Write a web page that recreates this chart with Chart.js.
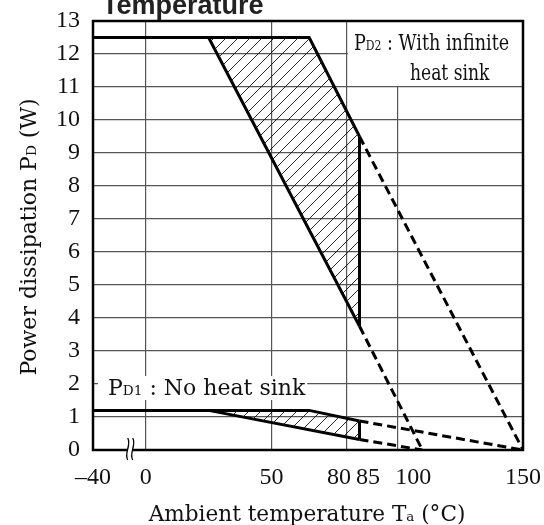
<!DOCTYPE html>
<html>
<head>
<meta charset="utf-8">
<script src="https://cdn.jsdelivr.net/npm/chart.js@4"></script>
<style>
  html, body { margin: 0; padding: 0; background: #fff; }
  canvas { display: block; }
</style>
</head>
<body>
<canvas id="chart" width="544" height="525"></canvas>
<script>
// derating curves: ambient temperature (°C) -> power dissipation (W)
const pd2OuterT = [-40, 65, 85, 150];
const pd2OuterP = [12.5, 12.5, 9.5, 0];
const pd2InnerT = [-40, 25, 85, 110];
const pd2InnerP = [12.5, 12.5, 3.75, 0];
const pd1OuterT = [-40, 65, 85, 150];
const pd1OuterP = [1.2, 1.2, 0.88, 0];
const pd1InnerT = [-40, 25, 85, 110];
const pd1InnerP = [1.2, 1.2, 0.32, 0];

const xTickLabels = [-40, 0, 50, 80, 85, 100, 150];
const xGridLines = [0, 50, 80, 100];
const yMax = 13;
const ratedTemp = 85; // curves are solid up to here, dashed after

// the -40..0 part of the axis is squeezed (axis break)
const BREAK_SCALE = 0.524;
const ax = t => (t < 0 ? t * BREAK_SCALE : t);

const SERIF = '"DejaVu Serif", serif';
const TICK_FONT = '"Liberation Serif", "Times New Roman", serif';

const pts = (T, P) => T.map((t, i) => ({ x: ax(t), y: P[i] }));
const upTo = (T, P) => pts(T, P).filter(p => p.x <= ratedTemp);
const at = (T, P, t) => P[T.indexOf(t)];

function hatchPattern(ctx) {
  const s = 12;
  const c = document.createElement("canvas");
  c.width = s;
  c.height = s;
  const g = c.getContext("2d");
  g.strokeStyle = "#111";
  g.lineWidth = 0.9;
  g.beginPath();
  g.moveTo(0, s); g.lineTo(s, 0);
  g.moveTo(-2, 2); g.lineTo(2, -2);
  g.moveTo(s - 2, s + 2); g.lineTo(s + 2, s - 2);
  g.stroke();
  return ctx.createPattern(c, "repeat");
}

function curve(T, P) {
  return {
    data: pts(T, P),
    borderColor: "#000",
    borderWidth: 3,
    fill: false,
    segment: {
      borderDash: c => (c.p0.parsed.x >= ratedTemp ? [9, 5] : undefined),
    },
  };
}

// draws text made of [string, sizeFactor] parts on one baseline, returns width
function richText(ctx, parts, x, y, size, draw = true, sx = 1) {
  let w = 0;
  ctx.save();
  ctx.translate(x, y);
  ctx.scale(sx, 1);
  for (const [txt, k] of parts) {
    ctx.font = `${size * k}px ${SERIF}`;
    if (draw) ctx.fillText(txt, w, 0);
    w += ctx.measureText(txt).width;
  }
  ctx.restore();
  return w * sx;
}

const decor = {
  id: "decor",
  afterDraw(chart) {
    const { ctx, chartArea: a, scales } = chart;
    const px = t => scales.x.getPixelForValue(ax(t));
    const py = p => scales.y.getPixelForValue(p);
    ctx.save();
    ctx.textBaseline = "alphabetic";

    // panel behind PD2 label
    ctx.fillStyle = "#fff";
    ctx.fillRect(px(80) + 1, a.top, a.right - px(80) - 1, py(11) - a.top - 1);

    // PD1 label with white backing
    const pd1Parts = [["P", 1], ["D1", 0.62], [" : No heat sink", 1]];
    const lx = a.left + 15;
    const lw = richText(ctx, pd1Parts, lx, 0, 22, false);
    ctx.fillStyle = "#fff";
    ctx.fillRect(lx - 10, py(2) - 8, lw + 12, 24);

    // frame
    ctx.strokeStyle = "#000";
    ctx.lineWidth = 2.5;
    ctx.strokeRect(a.left, a.top, a.right - a.left, a.bottom - a.top);

    // axis break mark
    const bx = px(0) - 18;
    ctx.fillStyle = "#fff";
    ctx.fillRect(bx, a.bottom - 3, 5, 6);
    ctx.lineWidth = 1.3;
    ctx.beginPath();
    for (const x0 of [bx, bx + 5]) {
      ctx.moveTo(x0, a.bottom - 12);
      ctx.bezierCurveTo(x0 + 4, a.bottom - 5, x0 - 4, a.bottom + 3, x0, a.bottom + 10);
    }
    ctx.stroke();

    ctx.fillStyle = "#111";
    richText(ctx, pd1Parts, lx, py(2) + 11, 22);
    richText(ctx, [["P", 1], ["D2", 0.62], [" : With infinite", 1]], px(80) + 7, a.top + 29, 22, true, 0.8);
    richText(ctx, [["heat sink", 1]], px(80) + 63, a.top + 59, 22, true, 0.78);

    // x tick labels (80/85/100 nudged apart like the original)
    const nudge = { 80: -8, 85: 8.5, 100: 16 };
    ctx.font = `24px ${TICK_FONT}`;
    ctx.textAlign = "center";
    for (const t of xTickLabels) {
      const label = t < 0 ? "\u2013" + Math.abs(t) : String(t);
      ctx.fillText(label, px(t) + (nudge[t] || 0), a.bottom + 34);
    }
    ctx.textAlign = "left";

    // axis titles
    const xt = [["Ambient temperature T", 1], ["a", 0.62], [" (\u00b0C)", 1]];
    const xw = richText(ctx, xt, 0, 0, 21.6, false);
    richText(ctx, xt, (a.left + a.right) / 2 - xw / 2 - 1, 521, 21.6);

    const yt = [["Power dissipation P", 1], ["D", 0.62], [" (W)", 1]];
    const yw = richText(ctx, yt, 0, 0, 22, false);
    ctx.save();
    ctx.translate(36, 237);
    ctx.rotate(-Math.PI / 2);
    richText(ctx, yt, -yw / 2, 0, 22);
    ctx.restore();

    // cut-off title line
    ctx.fillStyle = "#222";
    ctx.font = 'bold 27px "Liberation Sans", Arial, sans-serif';
    ctx.fillText("Temperature", 102, 14);
    ctx.restore();
  },
};

const canvas = document.getElementById("chart");
const hatch = hatchPattern(canvas.getContext("2d"));

new Chart(canvas, {
  type: "line",
  data: {
    datasets: [
      { data: upTo(pd2OuterT, pd2OuterP), borderColor: "transparent", fill: false },
      { data: upTo(pd2InnerT, pd2InnerP), borderColor: "transparent", backgroundColor: hatch, fill: "-1" },
      { data: upTo(pd1OuterT, pd1OuterP), borderColor: "transparent", fill: false },
      { data: upTo(pd1InnerT, pd1InnerP), borderColor: "transparent", backgroundColor: hatch, fill: "-1" },
      curve(pd2OuterT, pd2OuterP),
      curve(pd2InnerT, pd2InnerP),
      curve(pd1OuterT, pd1OuterP),
      curve(pd1InnerT, pd1InnerP),
      {
        data: [
          { x: ratedTemp, y: at(pd2InnerT, pd2InnerP, ratedTemp) },
          { x: ratedTemp, y: at(pd2OuterT, pd2OuterP, ratedTemp) },
        ],
        borderColor: "#000",
        borderWidth: 3,
        fill: false,
      },
      {
        data: [
          { x: ratedTemp, y: at(pd1InnerT, pd1InnerP, ratedTemp) },
          { x: ratedTemp, y: at(pd1OuterT, pd1OuterP, ratedTemp) },
        ],
        borderColor: "#000",
        borderWidth: 3,
        fill: false,
      },
    ],
  },
  options: {
    responsive: false,
    animation: false,
    events: [],
    layout: { padding: { top: 21, right: 21, left: 0, bottom: 0 } },
    elements: {
      point: { radius: 0 },
      line: { tension: 0, borderCapStyle: "butt", borderJoinStyle: "miter" },
    },
    plugins: {
      legend: { display: false },
      tooltip: { enabled: false },
    },
    scales: {
      x: {
        type: "linear",
        min: ax(-40),
        max: 150,
        afterBuildTicks: s => {
          s.ticks = [ax(-40), ...xGridLines, 150].map(v => ({ value: v }));
        },
        afterFit: s => {
          s.height = 75;
          s.paddingLeft = 0;
          s.paddingRight = 0;
        },
        ticks: { display: false },
        border: { display: false },
        grid: {
          drawTicks: false,
          lineWidth: 1.2,
          color: c => (xGridLines.includes(c.tick.value) ? "#555" : "rgba(0,0,0,0)"),
        },
      },
      y: {
        min: 0,
        max: yMax,
        afterFit: s => {
          s.width = 93;
          s.paddingTop = 0;
          s.paddingBottom = 0;
        },
        ticks: {
          stepSize: 1,
          color: "#111",
          padding: 13,
          font: { family: TICK_FONT, size: 24 },
        },
        border: { display: false },
        grid: {
          drawTicks: false,
          lineWidth: 1.2,
          color: c => (c.tick.value > 0 && c.tick.value < yMax ? "#555" : "rgba(0,0,0,0)"),
        },
      },
    },
  },
  plugins: [decor],
});
</script>
</body>
</html>
